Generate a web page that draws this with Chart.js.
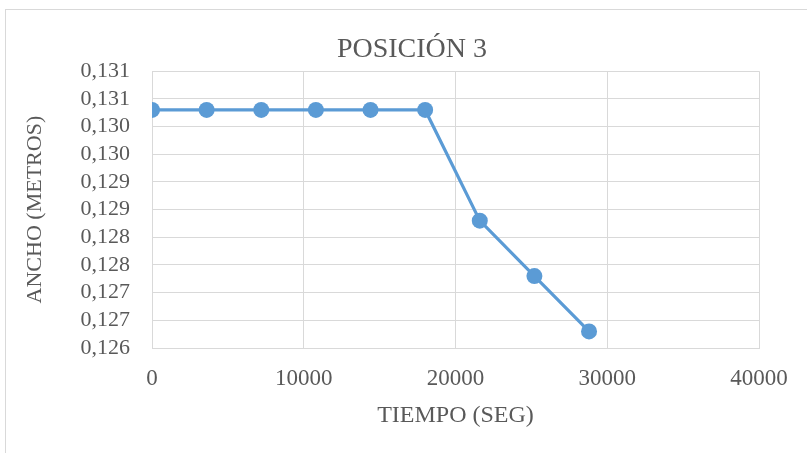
<!DOCTYPE html>
<html>
<head>
<meta charset="utf-8">
<script src="https://cdn.jsdelivr.net/npm/chart.js@4"></script>
<style>
  html, body { margin: 0; padding: 0; background: #fff; }
  #wrap { width: 807px; height: 453px; }
</style>
</head>
<body>
<div id="wrap"><canvas id="posChart" width="807" height="453"></canvas></div>
<script>
const tiempo = [0, 3600, 7200, 10800, 14400, 18000, 21600, 25200, 28800];
const ancho = [0.1303, 0.1303, 0.1303, 0.1303, 0.1303, 0.1303, 0.1283, 0.1273, 0.1263];
const yTickLabels = ["0,126", "0,127", "0,127", "0,128", "0,128", "0,129", "0,129", "0,130", "0,130", "0,131", "0,131"];
const xTickLabels = ["0", "10000", "20000", "30000", "40000"];

const textColor = "#595959";
const gridColor = "#D9D9D9";
const serie = "#5B9BD5";
const fontFam = "'Liberation Serif', 'Times New Roman', serif";

// marco del grafico (solo se ven el borde izquierdo y el de arriba)
// el marco sigue fuera del lienzo, por eso el titulo va un poco a la derecha
const marco = {
    id: "marco",
    afterLayout(chart) {
        if (chart.titleBlock) chart.titleBlock.left += 50;
    },
    beforeDraw(chart) {
        const c = chart.ctx;
        c.save();
        c.strokeStyle = gridColor;
        c.lineWidth = 1;
        c.strokeRect(5.5, 9.5, 900, 600);
        c.restore();
    }
};

const ctx = document.getElementById("posChart");

new Chart(ctx, {
    type: "scatter",
    data: {
        datasets: [{
            label: "Posición 3",
            data: tiempo.map((t, i) => ({ x: t, y: ancho[i] })),
            showLine: true,
            borderColor: serie,
            backgroundColor: serie,
            borderWidth: 3.2,
            pointRadius: 8,
            pointHoverRadius: 8,
            pointBorderWidth: 0
        }]
    },
    options: {
        responsive: false,
        animation: false,
        layout: {
            padding: { left: 15, right: 48, top: 0, bottom: 0 }
        },
        scales: {
            x: {
                type: "linear",
                min: 0,
                max: 40000,
                afterFit: (scale) => { scale.height = 105; },
                ticks: {
                    stepSize: 10000,
                    padding: 17,
                    color: textColor,
                    font: { family: fontFam, size: 23 },
                    callback: (value, index) => xTickLabels[index]
                },
                grid: { color: gridColor, lineWidth: 1, drawTicks: false },
                border: { color: gridColor },
                title: {
                    display: true,
                    text: "TIEMPO (SEG)",
                    color: textColor,
                    font: { family: fontFam, size: 24 },
                    padding: { top: 0, bottom: 23 }
                }
            },
            y: {
                min: 0.126,
                max: 0.131,
                afterFit: (scale) => { scale.width = 137; },
                ticks: {
                    stepSize: 0.0005,
                    autoSkip: false,
                    padding: 22,
                    color: textColor,
                    font: { family: fontFam, size: 22 },
                    callback: (value, index) => yTickLabels[index]
                },
                grid: { color: gridColor, lineWidth: 1, drawTicks: false },
                border: { color: gridColor },
                title: {
                    display: true,
                    text: "ANCHO (METROS)",
                    color: textColor,
                    font: { family: fontFam, size: 22 },
                    padding: { top: 7, bottom: 0 }
                }
            }
        },
        plugins: {
            legend: { display: false },
            tooltip: { enabled: false },
            title: {
                display: true,
                text: "POSICIÓN 3",
                color: textColor,
                font: { family: fontFam, size: 28, weight: "normal" },
                padding: { top: 33, bottom: 4.6 }
            }
        }
    },
    plugins: [marco]
});
</script>
</body>
</html>
